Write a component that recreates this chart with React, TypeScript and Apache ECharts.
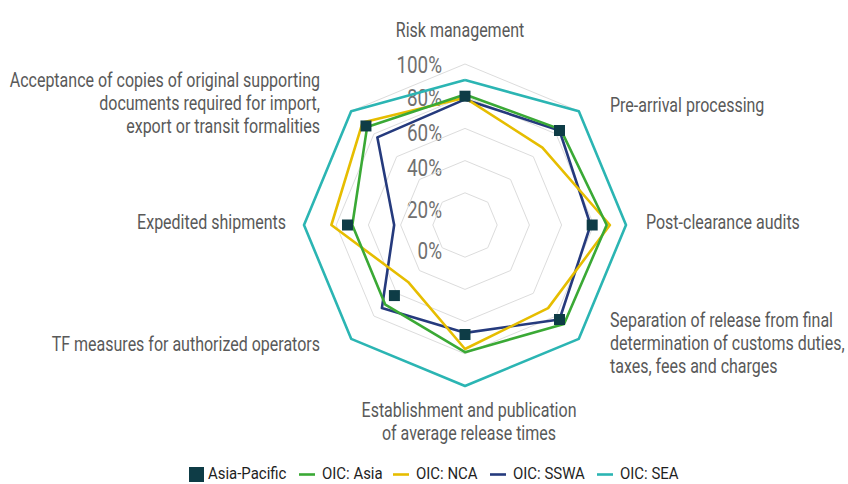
import React, { useEffect, useRef } from "react";
import * as echarts from "echarts";

// Indicators, clockwise from the top (as in the reference)
const indicatorNames = [
  "Risk management",
  "Pre-arrival processing",
  "Post-clearance audits",
  "Separation of release from final\ndetermination of customs duties,\ntaxes, fees and charges",
  "Establishment and publication\nof average release times",
  "TF measures for authorized operators",
  "Expedited shipments",
  "Acceptance of copies of original supporting\ndocuments required for import,\nexport or transit formalities",
];

const seriesNames = ["Asia-Pacific", "OIC: Asia", "OIC: NCA", "OIC: SSWA", "OIC: SEA"];

const asiaPacific = [80, 83, 79, 83, 68, 62, 73, 87];
const oicAsia = [81, 84, 88, 87, 79, 70, 70, 86];
const oicNCA = [79, 68, 90, 73, 77, 50, 83, 90];
const oicSSWA = [78, 83, 78, 83, 67, 73, 44, 77];
const oicSEA = [90, 100, 100, 100, 100, 100, 100, 100];

const tickLabels = ["0%", "20%", "40%", "60%", "80%", "100%"];

const FONT = "Roboto, 'Noto Sans', sans-serif";

// ECharts radar runs counter-clockwise; reorder so the picture runs clockwise
const ccwOrder = [0, 7, 6, 5, 4, 3, 2, 1];
const reorder = (arr: number[]) => ccwOrder.map((i) => arr[i]);

// label layout (text anchors), matching the reference placement
const nameLayout: { x: number; y: number; align: "left" | "right" | "center" }[] = [
  { x: 460, y: 30, align: "center" },
  { x: 610, y: 105, align: "left" },
  { x: 646, y: 222, align: "left" },
  { x: 610, y: 343, align: "left" },
  { x: 469, y: 421, align: "center" },
  { x: 320, y: 344, align: "right" },
  { x: 286, y: 222, align: "right" },
  { x: 320, y: 103, align: "right" },
];
const tickLabelY = [251, 210, 168, 133, 98, 65];
const legendIconX = [189, 299, 393, 490, 597];

const colors = ["#0e3c46", "#3aa935", "#e6bd00", "#253a7d", "#2bb5b3"];

export default function App() {
  const ref = useRef<HTMLDivElement>(null);
  useEffect(() => {
    if (!ref.current) return;
    const chart = echarts.init(ref.current, undefined, { renderer: "svg" });

    const graphic: any[] = [];
    indicatorNames.forEach((n, i) => {
      graphic.push({
        type: "text",
        x: nameLayout[i].x,
        y: nameLayout[i].y,
        scaleX: 0.8,
        silent: true,
        style: {
          text: n,
          fill: "#595959",
          font: `20px ${FONT}`,
          align: nameLayout[i].align,
          verticalAlign: "middle",
          lineHeight: 23,
        },
      });
    });
    tickLabels.forEach((t, i) => {
      graphic.push({
        type: "text",
        x: 442,
        y: tickLabelY[i],
        scaleX: 0.82,
        silent: true,
        style: {
          text: t,
          fill: "#707070",
          font: `23px ${FONT}`,
          align: "right",
          verticalAlign: "middle",
        },
      });
    });
    // legend
    seriesNames.forEach((s, i) => {
      const x0 = legendIconX[i];
      if (i === 0) {
        graphic.push({
          type: "rect",
          silent: true,
          shape: { x: x0, y: 467, width: 15, height: 15 },
          style: { fill: colors[i] },
        });
      } else {
        graphic.push({
          type: "rect",
          silent: true,
          shape: { x: x0, y: 473.2, width: 16, height: 2.6 },
          style: { fill: colors[i] },
        });
      }
      graphic.push({
        type: "text",
        x: x0 + (i === 0 ? 19 : 23),
        y: 473.5,
        scaleX: 0.88,
        silent: true,
        style: {
          text: s,
          fill: "#1f1f1f",
          font: `17px ${FONT}`,
          align: "left",
          verticalAlign: "middle",
        },
      });
    });

    const lineItem = (idx: number, values: number[]) => ({
      name: seriesNames[idx],
      value: reorder(values),
      itemStyle: { color: colors[idx] },
      lineStyle: { color: colors[idx], width: 2.6 },
    });

    chart.setOption({
      animation: false,
      backgroundColor: "#ffffff",
      radar: {
        center: [465, 225],
        radius: 161,
        startAngle: 90,
        splitNumber: 5,
        shape: "polygon",
        indicator: ccwOrder.map((i) => ({ name: indicatorNames[i], min: 0, max: 100 })),
        axisName: { show: false },
        splitLine: { lineStyle: { color: "#dcdcdc", width: 1 } },
        splitArea: { show: false },
        axisLine: { show: false },
        axisTick: { show: false },
        axisLabel: { show: false },
      },
      graphic,
      series: [
        {
          type: "radar",
          symbol: "none",
          z: 2,
          data: [
            lineItem(4, oicSEA),
            lineItem(3, oicSSWA),
            lineItem(2, oicNCA),
            lineItem(1, oicAsia),
          ],
        },
        {
          type: "radar",
          z: 3,
          symbol: "rect",
          symbolSize: 11,
          data: [
            {
              name: seriesNames[0],
              value: reorder(asiaPacific),
              symbol: "rect",
              symbolSize: 11,
              itemStyle: { color: colors[0], borderWidth: 0 },
              lineStyle: { width: 0, opacity: 0 },
            },
          ],
        },
      ],
    });
    return () => chart.dispose();
  }, []);
  return (
    <div
      ref={ref}
      style={{ position: "fixed", left: 0, top: 0, width: 848, height: 484 }}
    />
  );
}
